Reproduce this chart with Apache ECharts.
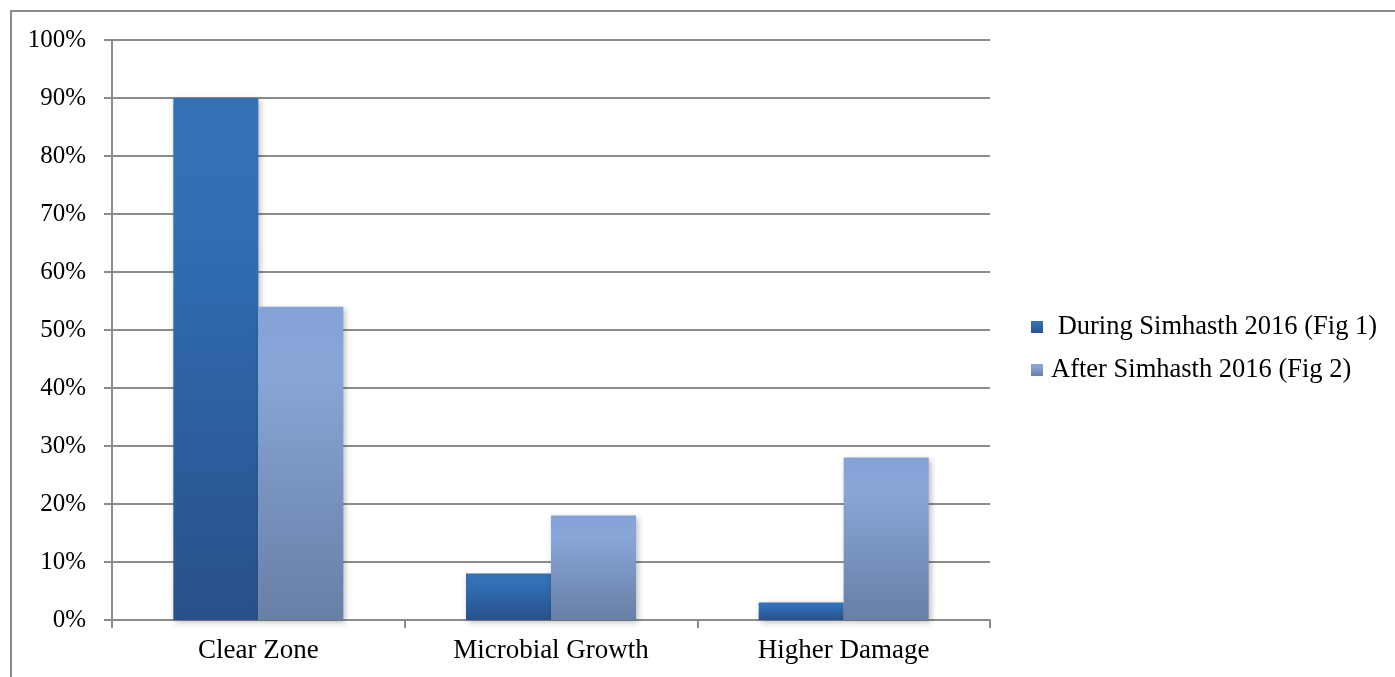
<!DOCTYPE html>
<html>
<head>
<meta charset="utf-8">
<script src="https://cdn.jsdelivr.net/npm/echarts@6/dist/echarts.min.js"></script>
<style>
  html, body { margin: 0; padding: 0; background: #fff; }
  #chart { width: 1395px; height: 677px; }
</style>
</head>
<body>
<div id="chart"></div>
<script>
// Survey categories and the share of samples in each, per period
const categories = ['Clear Zone', 'Microbial Growth', 'Higher Damage'];
const seriesNames = [' During Simhasth 2016 (Fig 1)', 'After Simhasth 2016 (Fig 2)'];
const duringValues = [0.90, 0.08, 0.03];
const afterValues = [0.54, 0.18, 0.28];
const yTicks = { min: 0, max: 1, interval: 0.1 };

const serif = '"Liberation Serif", "Times New Roman", serif';
const gridGray = '#8c8c8c';

function vGrad(top, mid, bottom) {
  return new echarts.graphic.LinearGradient(0, 0, 0, 1, [
    { offset: 0, color: top },
    { offset: 0.2, color: mid },
    { offset: 1, color: bottom }
  ]);
}

const barShadow = {
  shadowColor: 'rgba(0,0,0,0.28)',
  shadowBlur: 6,
  shadowOffsetX: 2,
  shadowOffsetY: 2
};

const chart = echarts.init(document.getElementById('chart'), null, { renderer: 'canvas' });
chart.setOption({
  animation: false,
  backgroundColor: '#fff',
  graphic: [{
    type: 'rect',
    shape: { x: 11, y: 11, width: 1420, height: 720 },
    style: { fill: 'none', stroke: '#8a8a8a', lineWidth: 2 },
    silent: true,
    z: -1
  }],
  grid: { left: 112, right: 405, top: 40, bottom: 57, containLabel: false },
  legend: {
    orient: 'vertical',
    left: 1026,
    top: 307,
    itemWidth: 12,
    itemHeight: 12,
    itemGap: 13,
    icon: 'rect',
    textStyle: { fontFamily: serif, fontSize: 26.5, color: '#000', padding: [0, 0, 0, 3], lineHeight: 30 },
    data: seriesNames
  },
  xAxis: {
    type: 'category',
    data: categories,
    axisLine: { lineStyle: { color: gridGray, width: 2 } },
    axisTick: { show: true, length: 8, lineStyle: { color: gridGray, width: 2 } },
    axisLabel: { fontFamily: serif, fontSize: 27, color: '#000', margin: 17 }
  },
  yAxis: {
    type: 'value',
    min: yTicks.min,
    max: yTicks.max,
    interval: yTicks.interval,
    axisLine: { show: true, lineStyle: { color: gridGray, width: 2 } },
    axisTick: { show: true, length: 8, lineStyle: { color: gridGray, width: 2 } },
    splitLine: { lineStyle: { color: gridGray, width: 2 } },
    axisLabel: {
      fontFamily: serif, fontSize: 25, color: '#000', margin: 26,
      formatter: v => Math.round(v * 100) + '%'
    }
  },
  series: [
    {
      name: seriesNames[0],
      type: 'bar',
      data: duringValues,
      barWidth: 85,
      barGap: '0%',
      itemStyle: Object.assign({ color: vGrad('#3370b8', '#3170b7', '#29508a') }, barShadow)
    },
    {
      name: seriesNames[1],
      type: 'bar',
      data: afterValues,
      barWidth: 85,
      itemStyle: Object.assign({ color: vGrad('#84a2d5', '#88a6d8', '#687fa6') }, barShadow)
    }
  ]
});
</script>
</body>
</html>
